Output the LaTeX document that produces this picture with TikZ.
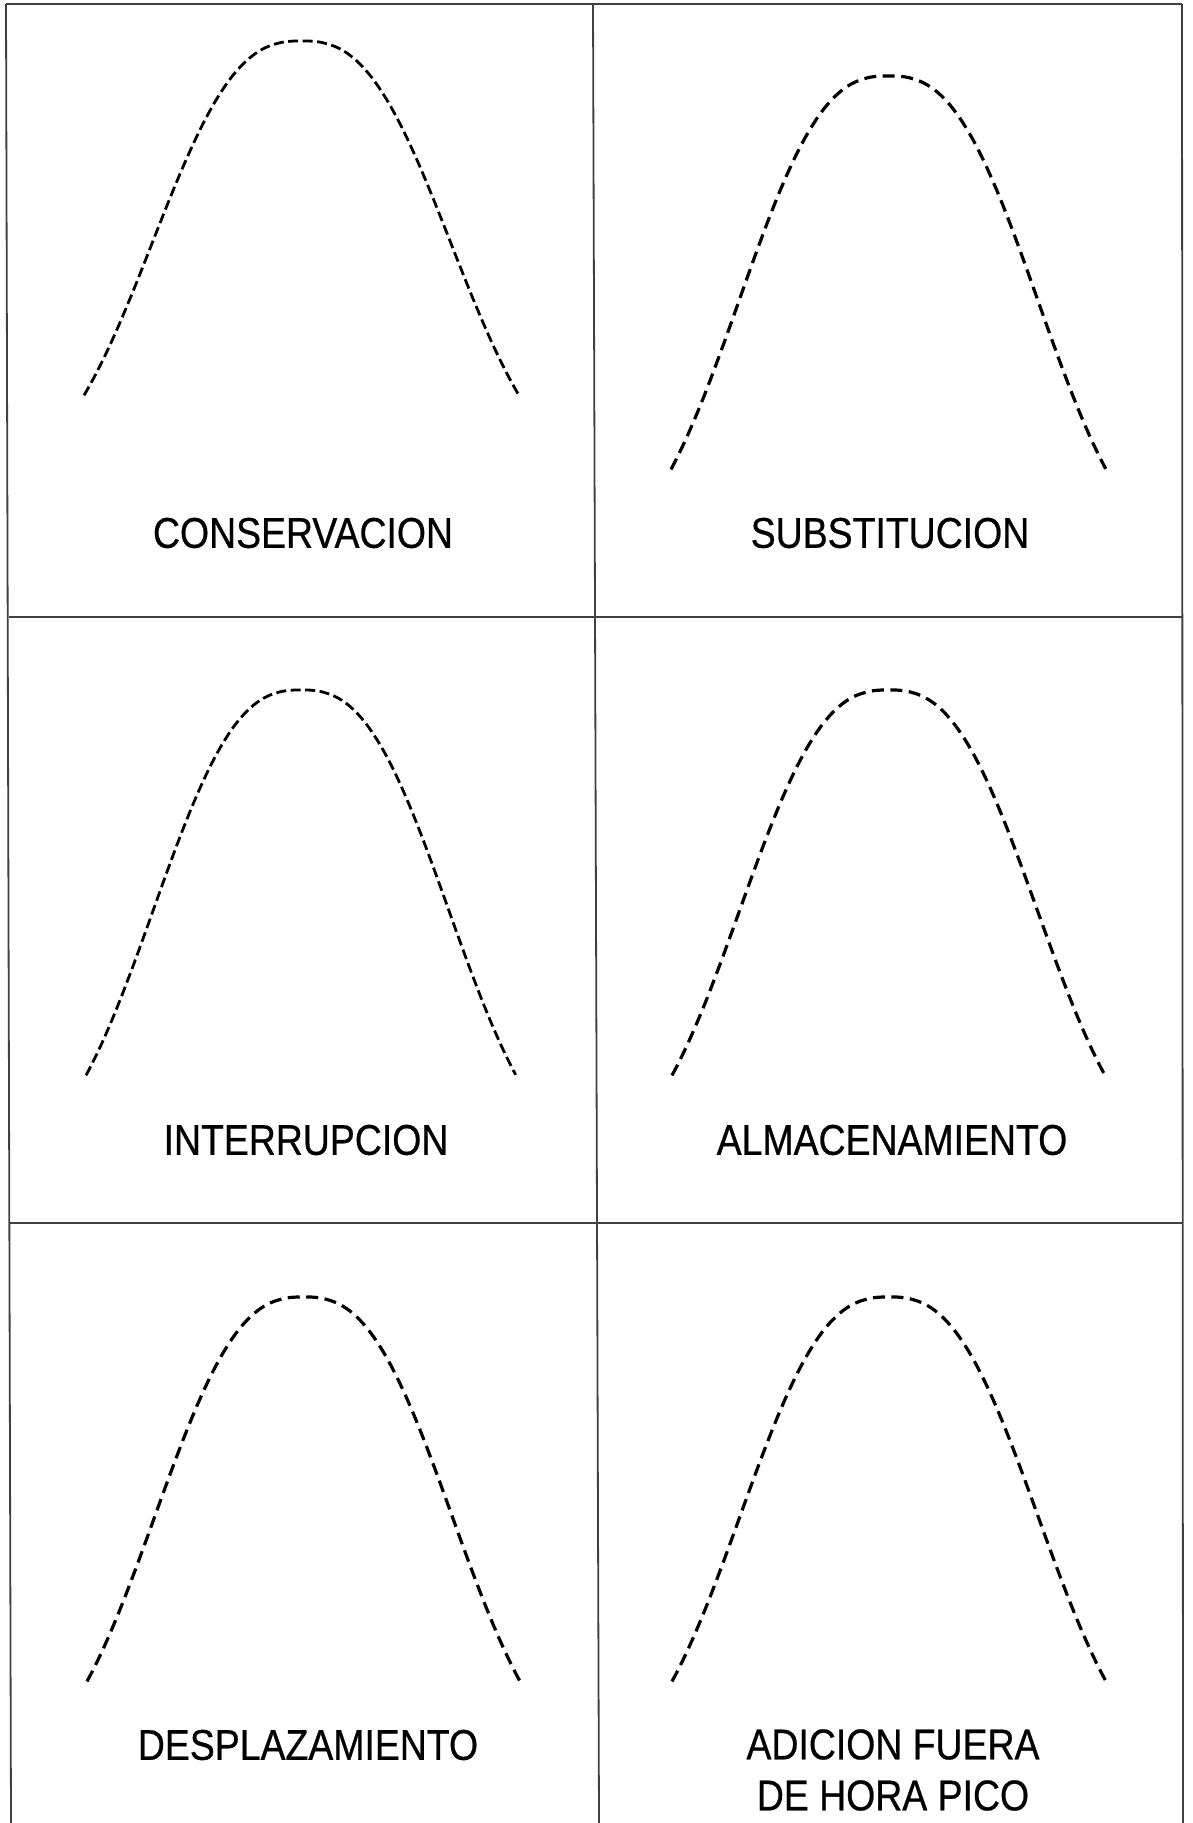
\documentclass[tikz,border=0pt]{standalone}
\usepackage{fontspec}
\newfontfamily\labfont[FakeStretch=0.87,FakeBold=0.6]{Liberation Sans}
\tikzset{
  frameline/.style={draw=black!75, line width=1.8pt},
  bellfine/.style={draw=black, line width=2.8pt, dash pattern=on 10pt off 4.5pt},
  bellbold/.style={draw=black, line width=3.2pt, dash pattern=on 12pt off 6.5pt},
  lab/.style={inner sep=0pt, align=center, font=\labfont\fontsize{43}{51}\selectfont}
}
% #1 style, #2 centre x, #3 half width, #4 base y, #5 height
\newcommand\bellcurve[5]{%
  \draw[#1] plot[domain=-1:1, samples=100, smooth]
    ({#2+#3*\x},{#4-#5*(exp(-pow((abs(\x)+0.001)/0.83,2.6))-0.1972)/0.8028});}
\begin{document}
\begin{tikzpicture}[x=1pt,y=-1pt]
\useasboundingbox (0,0) rectangle (1193,1823);
% frame and grid
\coordinate (tl) at (6,4);
\coordinate (tr) at (1182,4);
\coordinate (bl) at (11,1823);
\coordinate (br) at (1183,1823);
\coordinate (mt) at (593,4);
\coordinate (mb) at (599,1823);
\coordinate (h1l) at (9,617);
\coordinate (h1r) at (1182,617);
\coordinate (h2l) at (10,1223);
\coordinate (h2r) at (1183,1223);
\draw[frameline] (tl) -- (tr);
\draw[frameline] (tl) -- (bl);
\draw[frameline] (tr) -- (br);
\draw[frameline] (mt) -- (mb);
\draw[frameline] (h1l) -- (h1r);
\draw[frameline] (h2l) -- (h2r);
% curves
\bellcurve{bellfine}{301.5}{217.5}{395}{354}
\bellcurve{bellbold}{888.5}{217.5}{469}{393}
\bellcurve{bellfine}{301}{215}{1075}{385}
\bellcurve{bellbold}{888.5}{216.5}{1075}{385}
\bellcurve{bellbold}{303.5}{216.5}{1681}{384}
\bellcurve{bellbold}{889}{217}{1681}{384}
% labels
\node[lab] (l1) at (303,533) {CONSERVACION};
\node[lab] (l2) at (890,533) {SUBSTITUCION};
\node[lab] (l3) at (306,1140) {INTERRUPCION};
\node[lab] (l4) at (892,1140) {ALMACENAMIENTO};
\node[lab] (l5) at (308,1745) {DESPLAZAMIENTO};
\node[lab] (l6) at (893,1770) {ADICION FUERA\\DE HORA PICO};
\end{tikzpicture}
\end{document}
